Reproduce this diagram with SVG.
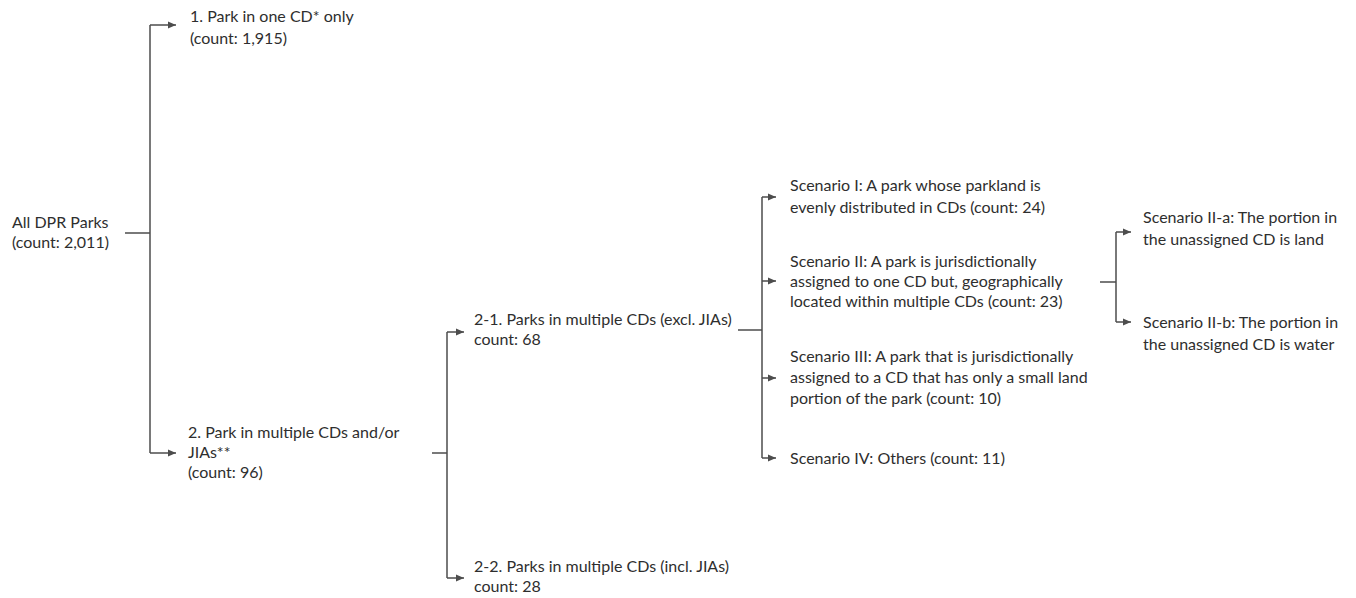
<svg xmlns="http://www.w3.org/2000/svg" width="1356" height="598" viewBox="0 0 1356 598">
<defs>
<marker id="ah" viewBox="0 0 8 8" refX="8" refY="4" markerWidth="8" markerHeight="8" markerUnits="userSpaceOnUse" orient="auto">
<path d="M0,0.5 L8,4 L0,7.5 Z" fill="#4d4d4d"/>
</marker>
<style>
text{font-family:"Lato","Liberation Sans",sans-serif;font-size:16px;fill:#2e2e2e}
.c path{fill:none;stroke:#4d4d4d;stroke-width:1.5}
.a{marker-end:url(#ah)}
</style>
</defs>
<rect width="1356" height="598" fill="#fff"/>
<g class="c" id="connectors">
<path d="M125,233 H150"/>
<path d="M150,453 V25"/>
<path class="a" d="M150,25 H176"/>
<path class="a" d="M150,453 H176"/>
<path d="M432,453 H447"/>
<path d="M447,578 V332"/>
<path class="a" d="M447,332 H464"/>
<path class="a" d="M447,578 H464"/>
<path d="M738,330 H762"/>
<path d="M762,458 V197"/>
<path class="a" d="M762,197 H776"/>
<path class="a" d="M762,281 H776"/>
<path class="a" d="M762,378 H776"/>
<path class="a" d="M762,458 H776"/>
<path d="M1100,282 H1116"/>
<path d="M1116,322 V232"/>
<path class="a" d="M1116,232 H1131"/>
<path class="a" d="M1116,322 H1131"/>
</g>
<g id="root"><text x="12" y="228">All DPR Parks</text><text x="12" y="248">(count: 2,011)</text></g>
<g id="n1"><text x="190" y="22">1. Park in one CD* only</text><text x="190" y="44">(count: 1,915)</text></g>
<g id="n2"><text x="188" y="438">2. Park in multiple CDs and/or</text><text x="188" y="458">JIAs**</text><text x="188" y="478">(count: 96)</text></g>
<g id="n21"><text x="474" y="325">2-1. Parks in multiple CDs (excl. JIAs)</text><text x="474" y="345">count: 68</text></g>
<g id="n22"><text x="474" y="572">2-2. Parks in multiple CDs (incl. JIAs)</text><text x="474" y="592">count: 28</text></g>
<g id="s1"><text x="790" y="191">Scenario I: A park whose parkland is</text><text x="790" y="213">evenly distributed in CDs (count: 24)</text></g>
<g id="s2"><text x="790" y="267">Scenario II: A park is jurisdictionally</text><text x="790" y="287">assigned to one CD but, geographically</text><text x="790" y="307">located within multiple CDs (count: 23)</text></g>
<g id="s3"><text x="790" y="362">Scenario III: A park that is jurisdictionally</text><text x="790" y="383">assigned to a CD that has only a small land</text><text x="790" y="404">portion of the park (count: 10)</text></g>
<g id="s4"><text x="790" y="464">Scenario IV: Others (count: 11)</text></g>
<g id="s2a"><text x="1143" y="223">Scenario II-a: The portion in</text><text x="1143" y="245">the unassigned CD is land</text></g>
<g id="s2b"><text x="1143" y="328">Scenario II-b: The portion in</text><text x="1143" y="350">the unassigned CD is water</text></g>
</svg>
